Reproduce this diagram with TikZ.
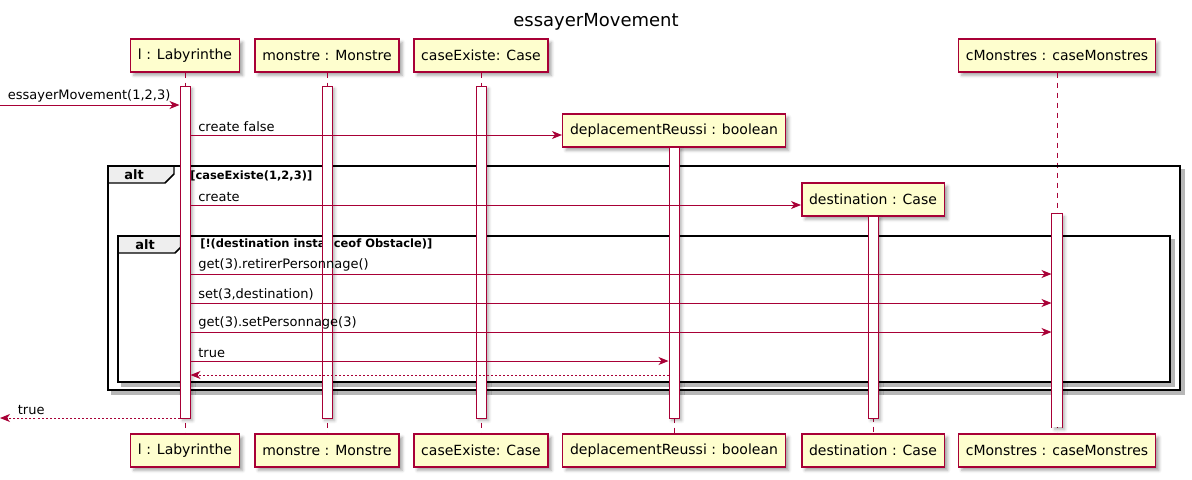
\documentclass[tikz,border=0pt]{standalone}
\usepackage{fontspec}
\setmainfont{DejaVu Sans}
\usetikzlibrary{arrows.meta,positioning,fit,shadows.blur}
\definecolor{umlred}{HTML}{A80036}
\definecolor{umlyellow}{HTML}{FEFECE}
\definecolor{umlgray}{HTML}{EEEEEE}

\begin{document}
\begin{tikzpicture}[x=0.75pt,y=-0.75pt,>={Stealth[length=7.5pt,width=6pt,inset=2.2pt]},
    part/.style={draw=umlred,fill=umlyellow,line width=1.1pt,minimum height=24.75pt,inner xsep=5.5pt,
      font=\fontsize{10.5}{12}\selectfont,
      blur shadow={shadow xshift=2.5pt,shadow yshift=-2.5pt,shadow blur steps=4,shadow opacity=35}},
    life/.style={draw=umlred,line width=0.75pt,dash pattern=on 3.75pt off 3.75pt},
    bar/.style={draw=umlred,fill=white,line width=0.75pt,inner sep=0pt,
      blur shadow={shadow xshift=2pt,shadow yshift=-2pt,shadow blur steps=4,shadow opacity=30}},
    msg/.style={->,umlred,line width=0.75pt},
    ret/.style={msg,dash pattern=on 1.5pt off 1.5pt},
    lbl/.style={text=black,font=\fontsize{9.75}{11}\selectfont,inner sep=1pt,anchor=south west,yshift=0.75pt},
    frame/.style={draw=black,line width=1.5pt},
    fshadow/.style={draw=black!40,line width=2.5pt,opacity=.7},
    tab/.style={draw=black,fill=umlgray,line width=1.1pt},
    alttxt/.style={font=\fontsize{9.75}{11}\bfseries\selectfont,inner sep=0pt},
    guard/.style={font=\fontsize{8.6}{10}\bfseries\selectfont,anchor=west,inner sep=0pt}]
  \useasboundingbox (0,0) rectangle (1192,479);

  \node[font=\fontsize{13.5}{16}\selectfont] (title) at (596,22) {essayerMovement};

  % participants
  \node[part] (lab) at (185,55.5) {l : Labyrinthe};
  \node[part] (mon) at (327,55.5) {monstre : Monstre};
  \node[part] (ce) at (481,55.5) {caseExiste: Case};
  \node[part] (dep) at (674,130.5) {deplacementReussi : boolean};
  \node[part] (dest) at (873,199.5) {destination : Case};
  \node[part] (cm) at (1057,55.5) {cMonstres : caseMonstres};

  \node[part] (labB) at (lab |- 0,450.5) {l : Labyrinthe};
  \node[part] (monB) at (mon |- 0,450.5) {monstre : Monstre};
  \node[part] (ceB) at (ce |- 0,450.5) {caseExiste: Case};
  \node[part] (depB) at (dep |- 0,450.5) {deplacementReussi : boolean};
  \node[part] (destB) at (dest |- 0,450.5) {destination : Case};
  \node[part] (cmB) at (cm |- 0,450.5) {cMonstres : caseMonstres};

  % lifelines
  \foreach \p in {lab,mon,ce,dep,dest,cm}
    \draw[life] (\p) -- (\p B);

  % alt frames
  \draw[fshadow] (1183,169) -- (1183,393) -- (111,393);
  \draw[tab] (108,166) -- (174,166) -- (174,174) -- (165,183) -- (108,183) -- cycle;
  \draw[frame] (108,166) rectangle (1180,390);
  \node[alttxt] (alt1) at (134,175) {alt};
  \node[guard] (g1) at (190,176) {[caseExiste(1,2,3)]};

  \draw[fshadow] (1173,239) -- (1173,385) -- (121,385);
  \draw[tab] (118,236) -- (184,236) -- (184,244) -- (175,253) -- (118,253) -- cycle;
  \draw[frame] (118,236) rectangle (1170,382);
  \node[alttxt] (alt2) at (145,244.5) {alt};
  \node[guard] (g2) at (200,244) {[!(destination instanceof Obstacle)]};

  % activations
  \node[bar,fit={(180,86) (190,418)}] (labbar) {};
  \node[bar,fit={(322,86) (332,418)}] (monbar) {};
  \node[bar,fit={(476,86) (486,418)}] (cebar) {};
  \node[bar,fit={(669,147) (679,418)}] (depbar) {};
  \node[bar,fit={(868,216) (878,418)}] (destbar) {};
  \node[bar,draw=none,fit={(1052,214) (1062,427)}] (cmbar) {};
  \draw[umlred,line width=0.75pt] (cmbar.south west) -- (cmbar.north west) -- (cmbar.north east) -- (cmbar.south east);

  % messages
  \coordinate (in) at (0,105);
  \coordinate (out) at (0,418);
  \draw[msg] (in) -- (labbar.west |- in) node[lbl,pos=0,xshift=4.5pt] {essayerMovement(1,2,3)};
  \draw[msg] (labbar.east |- 0,135) -- (dep.west |- 0,135) node[lbl,pos=0,xshift=4.5pt] {create false};
  \draw[msg] (labbar.east |- 0,205) -- (dest.west |- 0,205) node[lbl,pos=0,xshift=4.5pt] {create};
  \draw[msg] (labbar.east |- 0,274) -- (cmbar.west |- 0,274) node[lbl,pos=0,xshift=4.5pt] {get(3).retirerPersonnage()};
  \draw[msg] (labbar.east |- 0,303) -- (cmbar.west |- 0,303) node[lbl,pos=0,xshift=4.5pt] {set(3,destination)};
  \draw[msg] (labbar.east |- 0,332) -- (cmbar.west |- 0,332) node[lbl,pos=0,xshift=4.5pt] {get(3).setPersonnage(3)};
  \draw[msg] (labbar.east |- 0,361) -- (depbar.west |- 0,361) node[lbl,pos=0,xshift=4.5pt] {true};
  \draw[ret] (depbar.west |- 0,375) -- (labbar.east |- 0,375);
  \draw[ret] (labbar.west |- out) -- (out) node[lbl,pos=1,xshift=12pt] {true};
\end{tikzpicture}
\end{document}
